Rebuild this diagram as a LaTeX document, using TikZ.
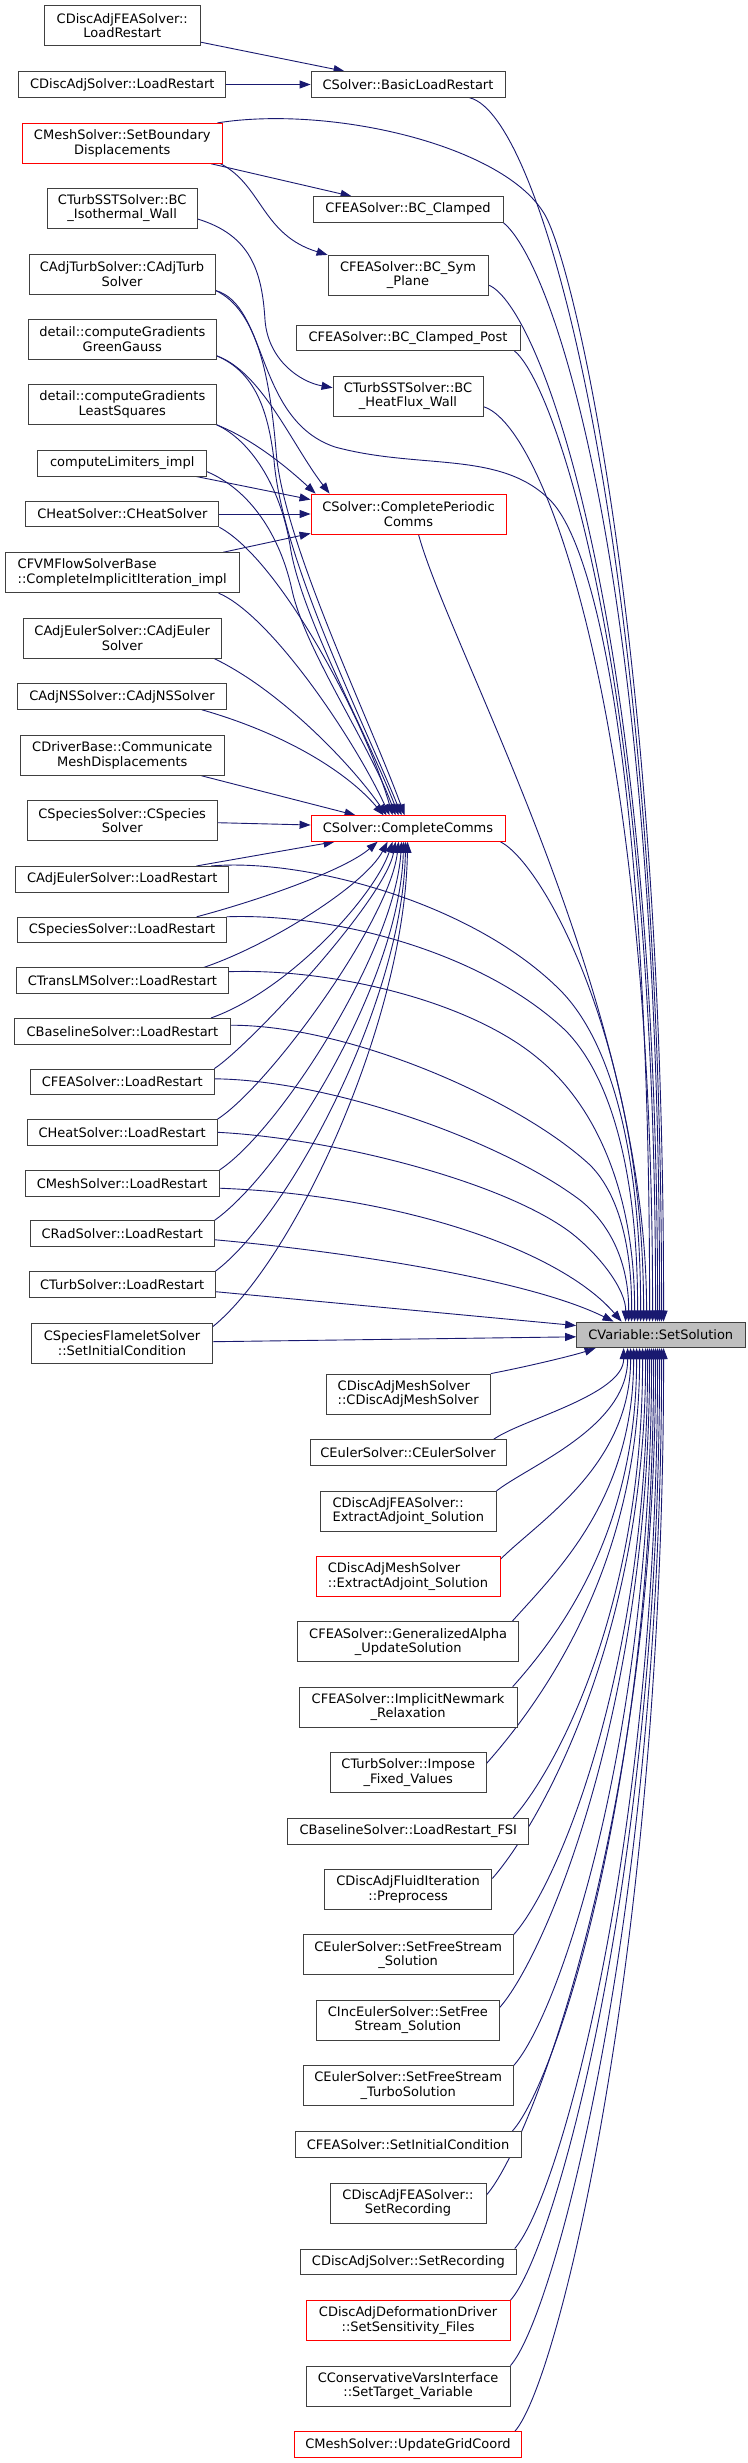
\documentclass[tikz,border=0pt]{standalone}
\usepackage{fontspec}
\setmainfont{DejaVu Sans}
\usetikzlibrary{arrows.meta}
\definecolor{edgeblue}{HTML}{191970}
\definecolor{nodegray}{HTML}{BFBFBF}
\pgfdeclarelayer{bg}
\pgfsetlayers{bg,main}
\begin{document}
\begin{tikzpicture}[x=1pt,y=-1pt,
  box/.style={draw=black!75, line width=0.85pt, fill=white, inner sep=0pt, align=center,
    font=\fontsize{13}{14.4}\selectfont},
  lbox/.style={box, align=left},
  sz/.style n args={2}{minimum width=#1pt, minimum height=#2pt},
  conn/.style={draw=edgeblue, line width=0.9pt, -{Triangle[length=11pt,width=8pt]}},
]
\useasboundingbox (0,0) rectangle (747,2463);
% ---------------- left column ----------------
\node[box, sz={155.5}{40}] (L1) at (122.3,25.7) {CDiscAdjFEASolver::\\LoadRestart};
\node[box, sz={207}{25.6}] (L2) at (122.3,84.5) {CDiscAdjSolver::LoadRestart};
\node[box, draw=red, sz={199.5}{40}] (L3) at (122.3,143.3) {CMeshSolver::SetBoundary\\Displacements};
\node[box, sz={150}{40}] (L4) at (122.2,208.3) {CTurbSSTSolver::BC\\\_Isothermal\_Wall};
\node[box, sz={186}{40}] (L5) at (122,274) {CAdjTurbSolver::CAdjTurb\\Solver};
\node[box, sz={187.5}{40}] (L6) at (122.3,339.3) {detail::computeGradients\\GreenGauss};
\node[box, sz={187.5}{40}] (L7) at (122.3,404.3) {detail::computeGradients\\LeastSquares};
\node[box, sz={169}{25.6}] (L8) at (122.2,463.3) {computeLimiters\_impl};
\node[box, sz={193}{25.6}] (L9) at (122.4,514) {CHeatSolver::CHeatSolver};
\node[lbox, sz={234}{40}] (L10) at (122.2,572.7) {CFVMFlowSolverBase\\::CompleteImplicitIteration\_impl};
\node[box, sz={198.5}{40}] (L11) at (122.2,638) {CAdjEulerSolver::CAdjEuler\\Solver};
\node[box, sz={208.6}{25.6}] (L12) at (122,696.5) {CAdjNSSolver::CAdjNSSolver};
\node[box, sz={203.4}{40}] (L13) at (122.3,755.3) {CDriverBase::Communicate\\MeshDisplacements};
\node[box, sz={190}{40}] (L14) at (122.2,820.5) {CSpeciesSolver::CSpecies\\Solver};
\node[box, sz={213}{25.6}] (L15) at (122.2,879.2) {CAdjEulerSolver::LoadRestart};
\node[box, sz={208.6}{25.6}] (L16) at (122,930) {CSpeciesSolver::LoadRestart};
\node[box, sz={211.5}{25.6}] (L17) at (122.4,980.7) {CTransLMSolver::LoadRestart};
\node[box, sz={215.3}{25.6}] (L18) at (122.4,1031.2) {CBaselineSolver::LoadRestart};
\node[box, sz={183.3}{25.6}] (L19) at (122.3,1081.8) {CFEASolver::LoadRestart};
\node[box, sz={190}{25.6}] (L20) at (122.2,1132.3) {CHeatSolver::LoadRestart};
\node[box, sz={193.8}{25.6}] (L21) at (122.2,1183.2) {CMeshSolver::LoadRestart};
\node[box, sz={183.3}{25.6}] (L22) at (122.3,1233.7) {CRadSolver::LoadRestart};
\node[box, sz={186}{25.6}] (L23) at (122.2,1284.3) {CTurbSolver::LoadRestart};
\node[box, sz={180.9}{40}] (L24) at (122,1343) {CSpeciesFlameletSolver\\::SetInitialCondition};
% ---------------- middle column ----------------
\node[box, sz={194}{25.6}] (M1) at (408,84.5) {CSolver::BasicLoadRestart};
\node[box, sz={190}{25.6}] (M2) at (408,209.5) {CFEASolver::BC\_Clamped};
\node[box, sz={160}{40}] (M3) at (408,275.3) {CFEASolver::BC\_Sym\\\_Plane};
\node[box, sz={224}{25.6}] (M4) at (408,337.8) {CFEASolver::BC\_Clamped\_Post};
\node[box, sz={150}{40}] (M5) at (408,396.3) {CTurbSSTSolver::BC\\\_HeatFlux\_Wall};
\node[box, draw=red, sz={195}{40}] (M6) at (408.5,514) {CSolver::CompletePeriodic\\Comms};
\node[box, draw=red, sz={194}{25.6}] (M7) at (408,828.5) {CSolver::CompleteComms};
\node[box, fill=nodegray, sz={168.4}{25.6}] (sol) at (660.8,1334.8) {CVariable::SetSolution};
\node[lbox, sz={164.4}{40}] (M8) at (408.2,1394) {CDiscAdjMeshSolver\\::CDiscAdjMeshSolver};
\node[box, sz={196}{25.6}] (M9) at (408,1452.7) {CEulerSolver::CEulerSolver};
\node[lbox, sz={175.6}{40}] (M10) at (408.3,1511.3) {CDiscAdjFEASolver::\\ExtractAdjoint\_Solution};
\node[lbox, draw=red, sz={184}{40}] (M11) at (408,1576.7) {CDiscAdjMeshSolver\\::ExtractAdjoint\_Solution};
\node[box, sz={221}{40}] (M12) at (408.2,1641.8) {CFEASolver::GeneralizedAlpha\\\_UpdateSolution};
\node[box, sz={218.2}{40}] (M13) at (408.1,1707.2) {CFEASolver::ImplicitNewmark\\\_Relaxation};
\node[box, sz={155.5}{40}] (M14) at (408.3,1772.5) {CTurbSolver::Impose\\\_Fixed\_Values};
\node[box, sz={241}{25.6}] (M15) at (408.2,1831.2) {CBaselineSolver::LoadRestart\_FSI};
\node[box, sz={167.5}{40}] (M16) at (408.1,1889.5) {CDiscAdjFluidIteration\\::Preprocess};
\node[box, sz={210.5}{40}] (M17) at (408.2,1954.8) {CEulerSolver::SetFreeStream\\\_Solution};
\node[box, sz={182.3}{40}] (M18) at (407.9,2020.2) {CIncEulerSolver::SetFree\\Stream\_Solution};
\node[box, sz={210.5}{40}] (M19) at (408.2,2085.7) {CEulerSolver::SetFreeStream\\\_TurboSolution};
\node[box, sz={225.8}{25.6}] (M20) at (408.1,2144.2) {CFEASolver::SetInitialCondition};
\node[box, sz={156}{40}] (M21) at (408,2203) {CDiscAdjFEASolver::\\SetRecording};
\node[box, sz={215.8}{25.6}] (M22) at (408.4,2261.7) {CDiscAdjSolver::SetRecording};
\node[box, draw=red, sz={203.8}{40}] (M23) at (408.1,2320.7) {CDiscAdjDeformationDriver\\::SetSensitivity\_Files};
\node[box, sz={203.8}{40}] (M24) at (408.1,2386) {CConservativeVarsInterface\\::SetTarget\_Variable};
\node[box, draw=red, sz={227.8}{25.6}] (M25) at (408,2444.5) {CMeshSolver::UpdateGridCoord};

\begin{pgfonlayer}{bg}
\fill[white] (0,0) rectangle (747,2463);
% ---- top area ----
\draw[conn] ([yshift=4pt]L1.south east) -- ([xshift=34pt]M1.north west);
\draw[conn] (L2.east) -- (M1.west);
\draw[conn] ([xshift=-11.5pt]L3.south east) -- ([xshift=39pt]M2.north west);
\draw[conn] ([xshift=-2pt]L3.south east) .. controls (262,185) and (262,235) .. (M3.north west);
\draw[conn] ([yshift=-10.7pt]L4.east) .. controls (250,235) and (262,270) .. (265,320) .. controls (268,360) and (300,382) .. ([yshift=8.6pt]M5.west);
% ---- long edges into SetSolution top ----
\draw[conn] ([xshift=-5pt]L3.north east) .. controls (330,105) and (505,145) .. (545,215) .. controls (575,268) and (664,650) .. ([xshift=87.4pt]sol.north west);
\draw[conn] ([xshift=-36pt]M1.south east) .. controls (545,115) and (662,560) .. ([xshift=85.4pt]sol.north west);
\draw[conn] (M2.south east) .. controls (555,265) and (660,580) .. ([xshift=83.4pt]sol.north west);
\draw[conn] ([yshift=-9.7pt]M3.east) .. controls (540,305) and (658,620) .. ([xshift=81.4pt]sol.north west);
\draw[conn] ([xshift=-6pt]M4.south east) .. controls (552,380) and (656,660) .. ([xshift=79.4pt]sol.north west);
\draw[conn] ([yshift=-10.4pt]M5.east) .. controls (545,425) and (653,720) .. ([xshift=76.4pt]sol.north west);
\draw[conn] ([yshift=4pt]L5.south east) .. controls (268,305) and (255,420) .. (335,447) .. controls (420,470) and (500,450) .. (550,500) .. controls (600,550) and (650,800) .. ([xshift=73.4pt]sol.north west);
\draw[conn] ([xshift=10pt]M6.south) .. controls (450,650) and (647,1000) .. ([xshift=70.4pt]sol.north west);
\draw[conn] ([xshift=-5pt]M7.south east) .. controls (545,865) and (644,1050) .. ([xshift=67.4pt]sol.north west);
\draw[conn] ([xshift=-18pt]L15.north east) .. controls (300,858) and (470,900) .. (560,990) .. controls (610,1040) and (641,1150) .. ([xshift=64.4pt]sol.north west);
\draw[conn] (L16.north east) .. controls (330,913) and (480,950) .. (565,1030) .. controls (610,1075) and (638,1170) .. ([xshift=61.4pt]sol.north west);
\draw[conn] ([yshift=9pt]L17.east) .. controls (330,968) and (470,1000) .. (540,1060) .. controls (600,1110) and (635,1200) .. ([xshift=58.4pt]sol.north west);
\draw[conn] ([yshift=6pt]L18.east) .. controls (350,1025) and (520,1100) .. (590,1165) .. controls (620,1195) and (632,1250) .. ([xshift=55.4pt]sol.north west);
\draw[conn] ([yshift=3pt]L19.east) .. controls (330,1080) and (500,1140) .. (580,1200) .. controls (615,1228) and (629,1270) .. ([xshift=52.4pt]sol.north west);
\draw[conn] (L20.east) .. controls (330,1138) and (500,1180) .. (570,1232) .. controls (600,1255) and (626,1290) .. ([xshift=49.4pt]sol.north west);
\draw[conn] ([yshift=-5pt]L21.east) .. controls (400,1195) and (560,1250) .. ([xshift=45.4pt]sol.north west);
\draw[conn] ([yshift=-6pt]L22.east) .. controls (350,1252) and (530,1280) .. ([xshift=37.4pt]sol.north west);
\draw[conn] ([yshift=-7.4pt]L23.east) -- ([yshift=-4pt]sol.north west);
\draw[conn] ([yshift=1.3pt]L24.east) -- ([yshift=-2pt]sol.west);
% ---- into CompletePeriodicComms ----
\draw[conn] ([yshift=4pt]L6.south east) .. controls (262,372) and (292,445) .. ([xshift=19pt]M6.north west);
\draw[conn] (L7.south east) .. controls (255,440) and (290,470) .. ([xshift=5pt]M6.north west);
\draw[conn] ([xshift=-10.7pt]L8.south east) -- ([yshift=-6pt]M6.north west);
\draw[conn] (L9.east) -- (M6.west);
\draw[conn] ([xshift=-16.5pt]L10.north east) -- ([yshift=1pt]M6.south west);
% ---- into CompleteComms from above ----
\draw[conn] ([yshift=4pt]L5.south east) .. controls (258,310) and (270,380) .. (276,450) .. controls (282,540) and (370,720) .. ([xshift=94pt]M7.north west);
\draw[conn] ([yshift=4pt]L6.south east) .. controls (255,372) and (268,410) .. (274,460) .. controls (282,560) and (365,725) .. ([xshift=91pt]M7.north west);
\draw[conn] (L7.south east) .. controls (250,440) and (280,485) .. (290,545) .. controls (300,615) and (368,735) .. ([xshift=88pt]M7.north west);
\draw[conn] ([yshift=-8.4pt]L8.east) .. controls (250,490) and (280,535) .. (292,590) .. controls (305,650) and (370,745) .. ([xshift=85pt]M7.north west);
\draw[conn] (L9.south east) .. controls (280,560) and (365,720) .. ([xshift=82pt]M7.north west);
\draw[conn] ([xshift=-21pt]L10.south east) .. controls (270,615) and (352,735) .. ([xshift=79pt]M7.north west);
\draw[conn] ([xshift=-8pt]L11.south east) .. controls (280,690) and (352,765) .. ([xshift=76pt]M7.north west);
\draw[conn] ([xshift=-25pt]L12.south east) .. controls (290,735) and (350,775) .. ([xshift=73pt]M7.north west);
\draw[conn] ([xshift=-23pt]L13.south east) -- ([xshift=45pt]M7.north west);
\draw[conn] ([yshift=-2.2pt]L14.east) -- ([yshift=3.5pt]M7.west);
% ---- into CompleteComms from below ----
\draw[conn] ([xshift=-32.7pt]L15.north east) -- ([xshift=24pt]M7.south west);
\draw[conn] ([xshift=-30pt]L16.north east) .. controls (260,900) and (345,870) .. ([xshift=67pt]M7.south west);
\draw[conn] ([xshift=-25pt]L17.north east) .. controls (270,945) and (365,885) .. ([xshift=77pt]M7.south west);
\draw[conn] ([xshift=-19.5pt]L18.north east) .. controls (290,990) and (375,895) .. ([xshift=82pt]M7.south west);
\draw[conn] (L19.north east) .. controls (250,1045) and (385,900) .. ([xshift=85pt]M7.south west);
\draw[conn] (L20.north east) .. controls (270,1085) and (390,920) .. ([xshift=88pt]M7.south west);
\draw[conn] (L21.north east) .. controls (280,1130) and (395,950) .. ([xshift=91pt]M7.south west);
\draw[conn] (L22.north east) .. controls (285,1170) and (400,980) .. ([xshift=93pt]M7.south west);
\draw[conn] (L23.north east) .. controls (290,1215) and (403,1000) .. ([xshift=95pt]M7.south west);
\draw[conn] ([yshift=-4pt]L24.north east) .. controls (295,1260) and (405,1020) .. ([xshift=97pt]M7.south west);
% ---- into SetSolution from below ----
\draw[conn] (M8.north east) .. controls (530,1366) and (575,1355) .. ([xshift=19.4pt]sol.south west);
\draw[conn] ([xshift=-13pt]M9.north east) .. controls (520,1420) and (624,1395) .. ([xshift=47.4pt]sol.south west);
\draw[conn] (M10.north east) .. controls (530,1465) and (628,1427) .. ([xshift=51.4pt]sol.south west);
\draw[conn] ([yshift=-3pt]M11.north east) .. controls (540,1520) and (631,1465) .. ([xshift=54.4pt]sol.south west);
\draw[conn] ([xshift=-7pt]M12.north east) .. controls (556,1572) and (634,1499) .. ([xshift=57.4pt]sol.south west);
\draw[conn] ([xshift=-5pt]M13.north east) .. controls (557,1637) and (637,1534) .. ([xshift=60.4pt]sol.south west);
\draw[conn] ([yshift=9pt]M14.east) .. controls (531,1713) and (640,1576) .. ([xshift=63.4pt]sol.south west);
\draw[conn] ([xshift=-16pt]M15.north east) .. controls (557,1768) and (643,1607) .. ([xshift=66.4pt]sol.south west);
\draw[conn] ([yshift=11pt]M16.east) .. controls (537,1828) and (646,1640) .. ([xshift=69.4pt]sol.south west);
\draw[conn] (M17.north east) .. controls (558,1885) and (648,1671) .. ([xshift=71.4pt]sol.south west);
\draw[conn] ([yshift=12.5pt]M18.east) .. controls (544,1958) and (650,1711) .. ([xshift=73.4pt]sol.south west);
\draw[conn] (M19.north east) .. controls (558,2016) and (652,1743) .. ([xshift=75.4pt]sol.south west);
\draw[conn] ([xshift=-9pt]M20.north east) .. controls (557,2081) and (654,1779) .. ([xshift=77.4pt]sol.south west);
\draw[conn] ([yshift=8pt]M21.east) .. controls (531,2145) and (656,1814) .. ([xshift=79.4pt]sol.south west);
\draw[conn] ([xshift=-2pt]M22.north east) .. controls (559,2199) and (658,1843) .. ([xshift=81.4pt]sol.south west);
\draw[conn] (M23.north east) .. controls (555,2251) and (660,1872) .. ([xshift=83.4pt]sol.south west);
\draw[conn] (M24.north east) .. controls (555,2316) and (662,1908) .. ([xshift=85.4pt]sol.south west);
\draw[conn] ([xshift=-7.5pt]M25.north east) .. controls (559,2382) and (664,1944) .. ([xshift=87.4pt]sol.south west);
\end{pgfonlayer}
\end{tikzpicture}
\end{document}
